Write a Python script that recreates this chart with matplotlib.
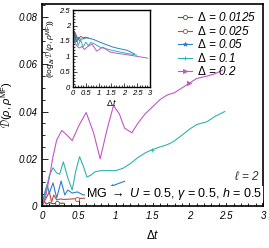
import numpy as np
import matplotlib
matplotlib.use('Agg')
import matplotlib.pyplot as plt
from matplotlib.ticker import MultipleLocator

plt.rcParams['font.family'] = ['Liberation Sans', 'DejaVu Sans']
plt.rcParams['mathtext.fontset'] = 'custom'
plt.rcParams['mathtext.it'] = 'Liberation Sans:italic'
plt.rcParams['mathtext.rm'] = 'Liberation Sans'

labels = [r'$\Delta$ = 0.0125', r'$\Delta$ = 0.025', r'$\Delta$ = 0.05',
          r'$\Delta$ = 0.1', r'$\Delta$ = 0.2']
colors = ['#555555', '#c8483c', '#2f7fc4', '#2fb3b0', '#c057c4']
markers = ['o', 'o', '*', '+', '>']

# main panel: D(rho, rho^MF) vs delta t
t_k = [0, 0.03, 0.06, 0.1, 0.15, 0.2, 0.3]
d_k = [0, 0.002, 0.0008, 0.0015, 0.001, 0.0012, 0.0012]
t_r = [0, 0.05, 0.1, 0.13, 0.16, 0.2, 0.25, 0.3, 0.4, 0.47, 0.55, 0.62]
d_r = [0, 0.003, 0.006, 0.0017, 0.0047, 0.0026, 0.003, 0.0028, 0.003, 0.0032, 0.0033, 0.0034]
t_b = [0, 0.04, 0.07, 0.1, 0.15, 0.2, 0.26, 0.31, 0.35, 0.41, 0.48, 0.56, 0.65, 0.75,
       0.85, 0.95, 1.06, 1.12]
d_b = [0, 0.006, 0.009, 0.0055, 0.0098, 0.0034, 0.0106, 0.0047, 0.0068, 0.0055, 0.006,
       0.0047, 0.005, 0.0055, 0.007, 0.0085, 0.0098, 0.0105]
t_c = [0, 0.05, 0.1, 0.15, 0.2, 0.24, 0.29, 0.35, 0.41, 0.46, 0.51, 0.56, 0.61, 0.66,
       0.72, 0.8, 0.9, 1.0, 1.1, 1.2, 1.3, 1.4, 1.49, 1.6, 1.7, 1.78, 1.9, 2.0, 2.1,
       2.24, 2.35, 2.48]
d_c = [0, 0.006, 0.013, 0.0162, 0.014, 0.0135, 0.0187, 0.012, 0.0068, 0.015, 0.0209,
       0.017, 0.0123, 0.013, 0.0145, 0.015, 0.015, 0.015, 0.016, 0.018, 0.0205, 0.0225,
       0.0238, 0.025, 0.026, 0.0272, 0.030, 0.0325, 0.0345, 0.0357, 0.038, 0.040]
t_m = [0, 0.05, 0.1, 0.15, 0.2, 0.27, 0.34, 0.41, 0.5, 0.6, 0.7, 0.79, 0.88, 0.97, 1.05,
       1.12, 1.22, 1.3, 1.4, 1.5, 1.6, 1.7, 1.8, 1.9, 2.0, 2.1, 2.24, 2.35, 2.45]
d_m = [0, 0.004, 0.012, 0.021, 0.028, 0.032, 0.030, 0.0277, 0.034, 0.0396, 0.031, 0.020,
       0.032, 0.0425, 0.039, 0.033, 0.031, 0.035, 0.039, 0.042, 0.045, 0.047, 0.048,
       0.050, 0.052, 0.054, 0.055, 0.056, 0.0575]

# inset: log_dt D
it_k = [0.01, 0.02, 0.04, 0.06, 0.08, 0.1, 0.15, 0.2, 0.3]
il_k = [1.4, 2.0, 1.5, 1.8, 1.45, 1.65, 1.5, 1.55, 1.5]
it_r = [0.02, 0.05, 0.08, 0.12, 0.2, 0.3, 0.4, 0.5, 0.6]
il_r = [1.4, 1.8, 1.5, 1.7, 1.55, 1.65, 1.6, 1.62, 1.6]
it_b = [0.02, 0.06, 0.1, 0.15, 0.2, 0.3, 0.54, 0.8, 1.05, 1.3, 1.56, 1.8, 2.1, 2.4]
il_b = [1.9, 1.5, 1.75, 1.5, 1.62, 1.55, 1.6, 1.55, 1.46, 1.38, 1.3, 1.25, 1.2, 1.08]
it_c = [0.02, 0.08, 0.15, 0.2, 0.3, 0.4, 0.5, 0.6, 0.7, 0.85, 1.05, 1.17, 1.5, 1.83,
        2.2, 2.49]
il_c = [1.7, 1.45, 1.6, 1.35, 1.53, 1.3, 1.46, 1.35, 1.45, 1.4, 1.3, 1.27, 1.2, 1.14,
        1.08, 1.04]
it_m = [0.02, 0.05, 0.1, 0.2, 0.27, 0.35, 0.45, 0.55, 0.74, 0.93, 1.17, 1.44, 1.7, 1.95,
        2.2, 2.49, 2.92]
il_m = [1.6, 1.5, 1.4, 1.3, 1.27, 1.32, 1.22, 1.3, 1.40, 1.17, 1.30, 1.14, 1.1, 1.07,
        1.04, 1.0, 0.94]

main = [(t_k, d_k, [5]), (t_r, d_r, [9]), (t_b, d_b, [15]), (t_c, d_c, [22]),
        (t_m, d_m, [24])]
inset = [(it_k, il_k), (it_r, il_r), (it_b, il_b), (it_c, il_c), (it_m, il_m)]

xt = [0, 0.5, 1, 1.5, 2, 2.5, 3]
xtl = ['0', '0.5', '1', '1.5', '2', '2.5', '3']

fig = plt.figure(figsize=(2.69, 2.48), dpi=100)
ax = fig.add_axes([0.156, 0.169, 0.822, 0.815])

for (x, y, me), c, mk, lab in zip(main, colors, markers, labels):
    ax.plot(x, y, color=c, lw=0.8, marker=mk, ms=3, mfc='white' if mk == 'o' else c,
            mew=0.6, markevery=me, label=lab)

ax.set_xticks(xt)
ax.set_xticklabels(xtl, fontsize=7, style='italic')
ax.set_yticks([0, 0.02, 0.04, 0.06, 0.08])
ax.set_yticklabels(['0', '0.02', '0.04', '0.06', '0.08'], fontsize=7, style='italic')
ax.xaxis.set_minor_locator(MultipleLocator(0.1))
ax.yaxis.set_minor_locator(MultipleLocator(0.005))
ax.set_xlim(0, 3)
ax.set_ylim(0, 0.0855)
ax.tick_params(which='both', direction='in', width=0.6)
ax.tick_params(which='major', length=4)
ax.tick_params(which='minor', length=2)
for s in ax.spines.values():
    s.set_linewidth(1.2)
ax.set_xlabel(r'$\Delta t$', fontsize=8.5, labelpad=6)
ax.set_ylabel(r'$\mathcal{D}(\rho,\rho^{\rm MF})$', fontsize=8, labelpad=2)

ax.legend(loc='upper right', frameon=False, handlelength=1.2,
          handletextpad=0.4, labelspacing=0.05, borderaxespad=0.2,
          prop={'style': 'italic', 'size': 8.5})

ax.text(0.985, 0.145, r'$\ell$ = 2', transform=ax.transAxes, ha='right', va='center',
        fontsize=8.5, style='italic', color='#333333')
ax.text(0.995, 0.058, r'MG $\rightarrow$ $U$ = 0.5, $\gamma$ = 0.5, $h$ = 0.5',
        transform=ax.transAxes, ha='right', va='center', fontsize=9,
        bbox=dict(facecolor='white', edgecolor='none', pad=0.5))

ins = fig.add_axes([0.271, 0.649, 0.286, 0.31])
for (x, y), c in zip(inset, colors):
    ins.plot(x, y, color=c, lw=0.7)
ins.set_xticks(xt)
ins.set_xticklabels(xtl, fontsize=5.5, style='italic')
ins.set_yticks([0, 0.5, 1, 1.5, 2, 2.5])
ins.set_yticklabels(['0', '0.5', '1', '1.5', '2', '2.5'], fontsize=5.5, style='italic')
ins.xaxis.set_minor_locator(MultipleLocator(0.1))
ins.yaxis.set_minor_locator(MultipleLocator(0.1))
ins.set_xlim(0, 3)
ins.set_ylim(0, 2.5)
ins.tick_params(which='both', direction='in', width=0.5, pad=2)
ins.tick_params(which='major', length=3)
ins.tick_params(which='minor', length=1.5)
for s in ins.spines.values():
    s.set_linewidth(1.0)
ins.set_xlabel(r'$\Delta t$', fontsize=6.5, labelpad=0)
ins.set_ylabel(r'$(\log_{\Delta t}\mathcal{D}(\rho,\rho^{\rm MF}))$', fontsize=6, labelpad=1)

fig.savefig('out.png', dpi=100)
